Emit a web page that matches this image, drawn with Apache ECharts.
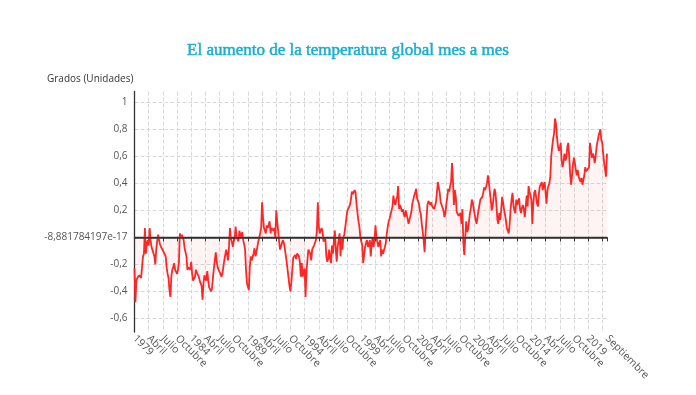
<!DOCTYPE html>
<html><head><meta charset="utf-8">
<script src="https://cdn.jsdelivr.net/npm/echarts@6/dist/echarts.min.js"></script>
<style>html,body{margin:0;padding:0;background:#fff}#c{width:696px;height:395px}</style>
</head><body><div id="c"></div>
<script>
const titulo = 'El aumento de la temperatura global mes a mes';
const nombreEje = 'Grados (Unidades)';
const meses = ['Enero','Febrero','Marzo','Abril','Mayo','Junio','Julio','Agosto','Septiembre','Octubre','Noviembre','Diciembre'];
const anioInicial = 1979;
const pasoEtiquetas = 15;
const etiquetaCero = '-8,881784197e-17';
// Anomalía mensual (grados), enero 1979 - septiembre 2020, una fila por año
const anomalia = [
 -0.23,-0.48,-0.32,-0.30,-0.29,-0.28,-0.27,-0.30,-0.22,-0.14,-0.12,0.07,
 -0.12,-0.05,-0.02,-0.06,0.07,-0.02,-0.07,-0.07,-0.08,-0.14,-0.20,-0.09,
 -0.03,0.02,-0.02,-0.05,-0.07,-0.06,-0.06,-0.11,-0.12,-0.14,-0.22,-0.27,
 -0.30,-0.39,-0.44,-0.29,-0.24,-0.22,-0.19,-0.24,-0.25,-0.27,-0.24,-0.19,
 0.03,0.00,0.02,0.00,-0.02,-0.08,-0.07,-0.14,-0.24,-0.22,-0.23,-0.24,
 -0.18,-0.27,-0.32,-0.31,-0.29,-0.24,-0.26,-0.27,-0.29,-0.32,-0.34,-0.36,
 -0.46,-0.34,-0.28,-0.30,-0.32,-0.25,-0.32,-0.37,-0.38,-0.40,-0.38,-0.30,
 -0.23,-0.17,-0.11,-0.18,-0.22,-0.24,-0.25,-0.27,-0.29,-0.27,-0.22,-0.17,
 -0.16,-0.09,-0.13,-0.17,-0.07,0.07,-0.01,-0.03,-0.07,-0.03,-0.01,0.08,
 0.00,-0.01,-0.03,0.05,0.02,0.00,0.04,-0.02,-0.05,-0.09,-0.24,-0.34,
 -0.34,-0.39,-0.22,-0.14,-0.17,-0.18,-0.12,-0.08,-0.14,-0.11,-0.07,-0.03,
 0.00,0.03,0.07,0.26,0.15,0.07,0.05,0.03,0.09,0.07,0.07,0.12,
 0.03,0.07,0.06,0.05,0.07,0.00,0.20,0.12,0.05,-0.03,-0.09,-0.09,
 -0.08,-0.02,-0.04,-0.08,-0.13,-0.18,-0.24,-0.30,-0.36,-0.40,-0.33,-0.24,
 -0.15,-0.14,-0.13,-0.16,-0.12,-0.13,-0.14,-0.18,-0.29,-0.19,-0.29,-0.25,
 -0.23,-0.44,-0.25,-0.17,-0.09,-0.10,-0.12,-0.17,-0.09,-0.08,-0.06,-0.07,
 -0.02,0.05,0.26,0.08,0.03,0.05,0.07,0.04,-0.03,-0.03,-0.01,-0.14,
 -0.18,-0.16,-0.09,-0.15,-0.19,-0.06,-0.12,-0.03,0.05,-0.09,-0.18,-0.07,
 -0.02,0.03,-0.14,-0.01,-0.09,0.00,0.02,0.03,0.13,0.19,0.21,0.20,
 0.24,0.28,0.34,0.32,0.31,0.35,0.33,0.24,0.18,0.12,0.08,0.00,
 -0.03,-0.06,-0.19,-0.13,-0.07,-0.04,-0.02,-0.07,-0.05,-0.02,-0.14,-0.05,
 0.00,-0.07,-0.02,0.09,0.00,0.00,-0.07,-0.04,-0.02,-0.14,-0.09,-0.12,
 -0.12,-0.07,-0.04,0.03,0.08,0.12,0.14,0.14,0.14,0.23,0.31,0.26,
 0.24,0.28,0.30,0.38,0.21,0.24,0.22,0.19,0.21,0.17,0.15,0.20,
 0.17,0.14,0.10,0.13,0.14,0.19,0.25,0.28,0.31,0.33,0.36,0.29,
 0.27,0.25,0.20,0.17,0.10,0.04,-0.02,-0.11,0.03,0.14,0.24,0.27,
 0.28,0.24,0.26,0.23,0.23,0.21,0.22,0.26,0.33,0.41,0.37,0.33,
 0.26,0.24,0.24,0.20,0.15,0.18,0.25,0.30,0.36,0.34,0.38,0.41,
 0.55,0.42,0.24,0.35,0.30,0.19,0.18,0.16,0.15,0.18,0.10,0.21,
 -0.04,-0.13,0.00,0.12,0.04,0.06,0.12,0.18,0.22,0.28,0.26,0.21,
 0.20,0.13,0.10,0.15,0.20,0.24,0.28,0.28,0.30,0.33,0.37,0.35,
 0.35,0.40,0.46,0.41,0.34,0.28,0.20,0.23,0.30,0.36,0.33,0.24,
 0.13,0.10,0.18,0.13,0.20,0.30,0.26,0.21,0.17,0.13,0.07,0.05,
 0.03,0.10,0.21,0.28,0.33,0.24,0.20,0.18,0.28,0.24,0.27,0.29,
 0.21,0.18,0.22,0.24,0.21,0.15,0.23,0.31,0.23,0.38,0.34,0.31,
 0.28,0.10,0.25,0.33,0.35,0.30,0.25,0.23,0.33,0.38,0.39,0.41,
 0.35,0.39,0.41,0.42,0.25,0.35,0.38,0.40,0.45,0.60,0.67,0.73,
 0.77,0.88,0.84,0.75,0.68,0.64,0.66,0.70,0.57,0.52,0.56,0.62,
 0.57,0.59,0.67,0.70,0.60,0.47,0.39,0.46,0.54,0.59,0.55,0.50,
 0.46,0.50,0.45,0.46,0.41,0.44,0.39,0.40,0.46,0.52,0.49,0.50,
 0.50,0.52,0.70,0.65,0.59,0.62,0.60,0.55,0.60,0.67,0.71,0.75,
 0.75,0.80,0.72,0.70,0.62,0.55,0.50,0.45,0.62
];
const categorias = anomalia.map((_, i) => meses[i % 12] + ' ' + (anioInicial + Math.floor(i / 12)));
const ultimo = categorias.length - 1;
const conEtiqueta = (i) => (i % pasoEtiquetas === 0 && i <= ultimo - 10) || i === ultimo;

const chart = echarts.init(document.getElementById('c'), null, {renderer: 'canvas'});
const fuente = 'Open Sans';
chart.setOption({
  animation: false,
  title: [
    {text: titulo, left: 'center', top: 37,
     textStyle: {fontFamily: 'Liberation Serif', fontSize: 17, fontWeight: 'normal', color: '#1aaed0',
                 textBorderColor: '#1aaed0', textBorderWidth: 0.5}},
    {text: nombreEje, left: 42, top: 69,
     textStyle: {fontFamily: fuente, fontSize: 10, fontWeight: 'normal', color: '#333'}}
  ],
  grid: {left: 134.5, right: 89, top: 91.5, bottom: 63, containLabel: false},
  xAxis: {
    type: 'category', data: categorias, boundaryGap: false,
    axisLine: {lineStyle: {color: '#333', width: 1.3}},
    axisTick: {show: true, length: 4, interval: (i) => i % pasoEtiquetas === 0 || i === ultimo, lineStyle: {color: '#333'}},
    splitLine: {show: true, interval: (i) => i % pasoEtiquetas === 0, lineStyle: {type: 'dashed', color: '#d8d8d8'}},
    axisLabel: {
      interval: 0, hideOverlap: false,
      rotate: -45, margin: 5, color: '#555', fontFamily: fuente, fontSize: 10.5,
      formatter: (v) => {
        const idx = categorias.indexOf(v);
        if (!conEtiqueta(idx)) return '';
        const m = idx % 12;
        if (idx === ultimo) return meses[m];
        return m === 0 ? String(anioInicial + Math.floor(idx / 12)) : meses[m];
      }
    }
  },
  yAxis: {
    type: 'value', min: -0.7, max: 1.08, splitNumber: 9,
    axisLine: {show: true, lineStyle: {color: '#333', width: 1.3}},
    axisTick: {show: false},
    splitLine: {showMaxLine: false, showMinLine: false, lineStyle: {type: 'dashed', color: '#d8d8d8'}},
    axisLabel: {
      showMinLabel: false, showMaxLabel: false, margin: 7, color: '#555', fontFamily: fuente, fontSize: 10,
      formatter: (v) => Math.abs(v) < 1e-9 ? etiquetaCero : String(Math.round(v * 10) / 10).replace('.', ',')
    }
  },
  series: [{
    type: 'line', data: anomalia, showSymbol: false, symbol: 'none',
    lineStyle: {color: '#ff2626', width: 1.8},
    areaStyle: {color: 'rgba(255,60,60,0.08)', origin: 0},
    markLine: {silent: true, symbol: 'none', label: {show: false},
      lineStyle: {color: '#333', type: 'solid', width: 1.5},
      data: [{yAxis: 0}]}
  }]
});
</script>
</body></html>
